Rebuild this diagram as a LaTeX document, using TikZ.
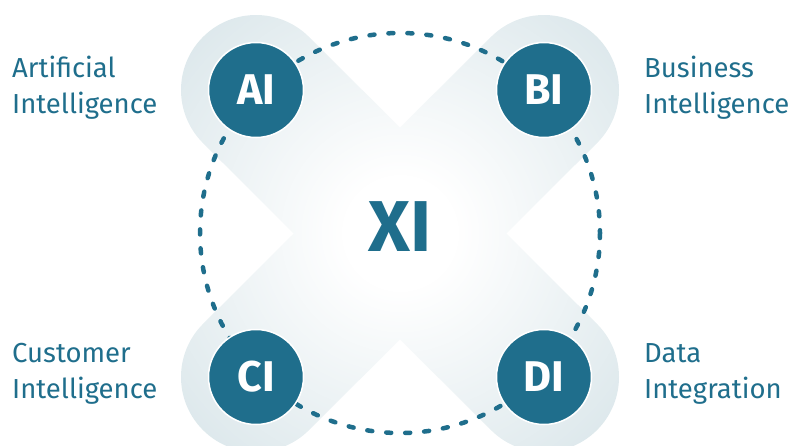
\documentclass[tikz,border=0pt]{standalone}
\usepackage{fontspec}
\setmainfont{Fira Sans}
\usetikzlibrary{fadings}
\definecolor{tealdark}{HTML}{1F6E8C}
\definecolor{halo}{HTML}{D2E1E6}
\pgfdeclareradialshading{xfadeshade}{\pgfpoint{0bp}{0bp}}{color(0bp)=(white); color(4bp)=(white); color(25bp)=(black); color(50bp)=(black)}
\pgfdeclarefading{xfade}{\pgfuseshading{xfadeshade}}
\tikzset{
  band/.style={draw=halo, line width=150pt, line cap=round},
  darkdisc/.style={circle, fill=tealdark, draw=white, line width=1.5pt, minimum size=95pt, inner sep=0pt, text=white, font=\fontsize{43}{43}\selectfont\bfseries},
  lbl/.style={anchor=base west, inner sep=0pt, text=tealdark, font=\fontsize{27.5}{27.5}\selectfont},
  ring/.style={draw=tealdark, line width=4.5pt, dash pattern=on 5pt off 14pt, line cap=round},
}
\begin{document}
\begin{tikzpicture}[x=1pt,y=-1pt]
\useasboundingbox (0,0) rectangle (790,445);
\coordinate (O) at (400,233);
\coordinate (pa) at (256,90);
\coordinate (pb) at (544,90);
\coordinate (pc) at (256,377);
\coordinate (pd) at (544,377);
\draw[band] (pa) -- (pd);
\draw[band] (pb) -- (pc);
\fill[white, path fading=xfade] (O) circle (360);
\draw[ring] (O) circle (200);
\node[darkdisc] (AI) at (pa) {AI};
\node[darkdisc] (BI) at (pb) {BI};
\node[darkdisc] (CI) at (pc) {CI};
\node[darkdisc] (DI) at (pd) {DI};
\node[text=tealdark, font=\fontsize{72}{72}\selectfont\bfseries, inner sep=0pt] (XI) at (400,227) {XI};
\node[lbl] (t1a) at (12,77) {Artificial};
\node[lbl] (t1b) at (12,113) {Intelligence};
\node[lbl] (t2a) at (644,77) {Business};
\node[lbl] (t2b) at (644,113) {Intelligence};
\node[lbl] (t3a) at (12,362) {Customer};
\node[lbl] (t3b) at (12,398) {Intelligence};
\node[lbl] (t4a) at (644,362) {Data};
\node[lbl] (t4b) at (644,398) {Integration};
\end{tikzpicture}
\end{document}
